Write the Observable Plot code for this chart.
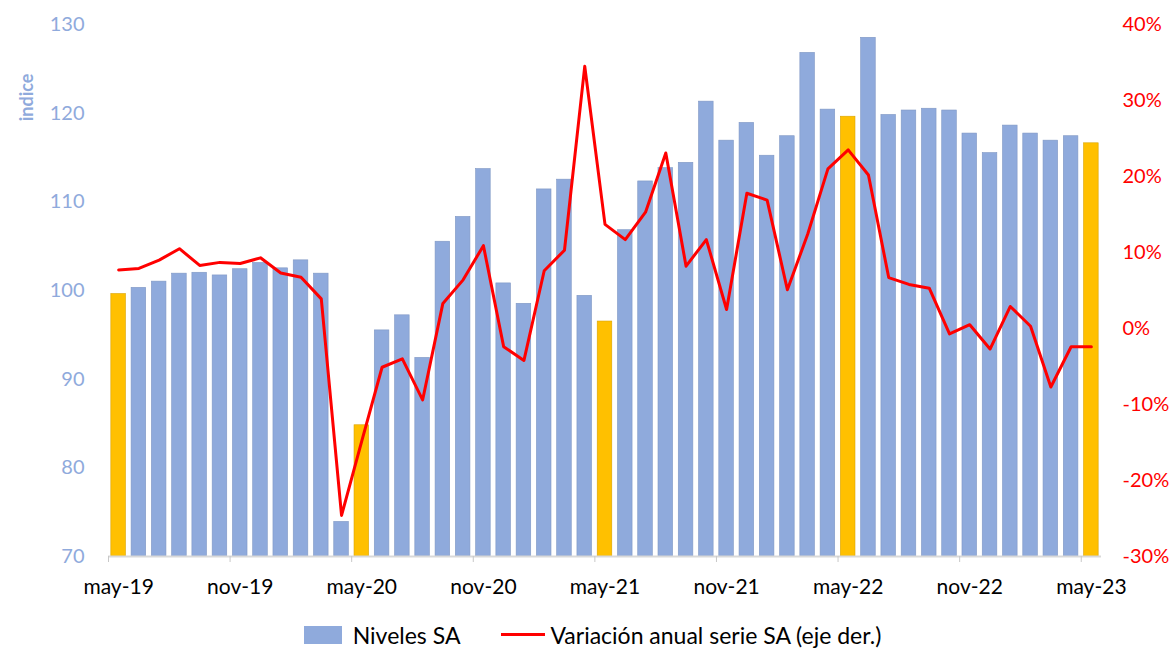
<!DOCTYPE html>
<html>
<head>
<meta charset="utf-8">
<script src="https://cdn.jsdelivr.net/npm/d3@7"></script>
<script src="https://cdn.jsdelivr.net/npm/@observablehq/plot@0.6"></script>
<style>
  body { margin: 0; background: #fff; font-family: Lato, "Open Sans", sans-serif; }
  #chart svg { display: block; }
  #legend { height: 45px; display: flex; justify-content: center; align-items: center;
            font-size: 23px; color: #000; padding-left: 14px; box-sizing: border-box; }
  #legend .box { display: inline-block; width: 38px; height: 18px; background: #8FAADC; margin-right: 11px; }
  #legend .ln { display: inline-block; width: 44px; height: 3px; background: #FF0000; margin-left: 41px; margin-right: 5px; }
</style>
</head>
<body>
<div id="chart"></div>
<div id="legend"><span class="box"></span><span>Niveles SA</span><span class="ln"></span><span>Variación anual serie SA (eje der.)</span></div>
<script>
const months = [
  "may-19","jun-19","jul-19","ago-19","sep-19","oct-19","nov-19","dic-19",
  "ene-20","feb-20","mar-20","abr-20","may-20","jun-20","jul-20","ago-20","sep-20","oct-20","nov-20","dic-20",
  "ene-21","feb-21","mar-21","abr-21","may-21","jun-21","jul-21","ago-21","sep-21","oct-21","nov-21","dic-21",
  "ene-22","feb-22","mar-22","abr-22","may-22","jun-22","jul-22","ago-22","sep-22","oct-22","nov-22","dic-22",
  "ene-23","feb-23","mar-23","abr-23","may-23"
];
const niveles = [
  99.6, 100.3, 101.0, 101.9, 102.0, 101.7, 102.4, 103.1,
  102.5, 103.4, 101.9, 73.9, 84.8, 95.5, 97.2, 92.4, 105.5, 108.3, 113.7, 100.8,
  98.5, 111.4, 112.5, 99.4, 96.5, 106.8, 112.3, 113.8, 114.4, 121.3, 116.9, 118.9,
  115.2, 117.4, 126.8, 120.4, 119.6, 128.5, 119.8, 120.3, 120.5, 120.3, 117.7, 115.5,
  118.6, 117.7, 116.9, 117.4, 116.6
];
const variacion = [
  7.7, 7.9, 9.0, 10.5, 8.3, 8.7, 8.55, 9.3,
  7.3, 6.75, 3.9, -24.6, -14.8, -5.1, -4.0, -9.4, 3.3, 6.4, 10.9, -2.4,
  -4.2, 7.6, 10.3, 34.5, 13.7, 11.7, 15.3, 23.1, 8.2, 11.7, 2.5, 17.8,
  16.9, 5.1, 12.4, 21.0, 23.5, 20.2, 6.7, 5.8, 5.3, -0.7, 0.5, -2.7,
  2.9, 0.3, -7.7, -2.4, -2.4
];
const xTickLabels = ["may-19","nov-19","may-20","nov-20","may-21","nov-21","may-22","nov-22","may-23"];
const leftTicks = [70, 80, 90, 100, 110, 120, 130];
const rightTicks = [-30, -20, -10, 0, 10, 20, 30, 40];

// secondary axis mapping: -30%..40% <-> 70..130
const toLeft = p => 70 + (p + 30) * 60 / 70;
const toPct = v => (v - 70) * 70 / 60 - 30;

const data = months.map((m, i) => ({ i, m, v: niveles[i], p: variacion[i], hi: m.startsWith("may") }));
const tickIdx = xTickLabels.map(l => months.indexOf(l));

const chart = Plot.plot({
  width: 1171,
  height: 612,
  marginTop: 24,
  marginBottom: 56,
  marginLeft: 108,
  marginRight: 70,
  x: { type: "linear", domain: [-0.5, months.length - 0.5] },
  y: { domain: [70, 130] },
  style: { fontFamily: "Lato, 'Open Sans', sans-serif", fontSize: "19px", background: "#fff", overflow: "visible" },
  marks: [
    Plot.rectY(data, {
      x1: d => d.i - 0.36, x2: d => d.i + 0.36, y1: 70, y2: "v",
      fill: d => d.hi ? "#FFC000" : "#8FAADC",
      stroke: d => d.hi ? "#D9A300" : "#7F97C4", strokeWidth: 0.6
    }),
    Plot.ruleY([70], { stroke: "#D9D9D9", strokeWidth: 2 }),
    Plot.axisX(tickIdx.map(i => i - 0.5), { tickSize: 6, tickFormat: () => "", color: "#C8C8C8", label: null }),
    Plot.axisX(tickIdx, { tickSize: 0, tickPadding: 23, tickFormat: i => months[i], color: "#000", fontSize: 21, label: null }),
    Plot.axisY(leftTicks, { anchor: "left", tickSize: 0, tickPadding: 24, color: "#8FAADC", fontSize: 20, label: null }),
    Plot.axisY(rightTicks.map(toLeft), {
      anchor: "right", tickSize: 0, tickPadding: 21, color: "#FF0000", fontSize: 20, label: null,
      tickFormat: v => Math.round(toPct(v)) + "%"
    }),
    Plot.line(data, { x: "i", y: d => toLeft(d.p), stroke: "#FF0000", strokeWidth: 3, curve: "linear" }),
    Plot.text(["indice"], { frameAnchor: "top-left", dx: -81, dy: 73, rotate: -90, textAnchor: "middle", lineAnchor: "middle", fill: "#8FAADC", fontSize: 18, fontWeight: "bold" })
  ]
});
document.getElementById("chart").appendChild(chart);
</script>
</body>
</html>
